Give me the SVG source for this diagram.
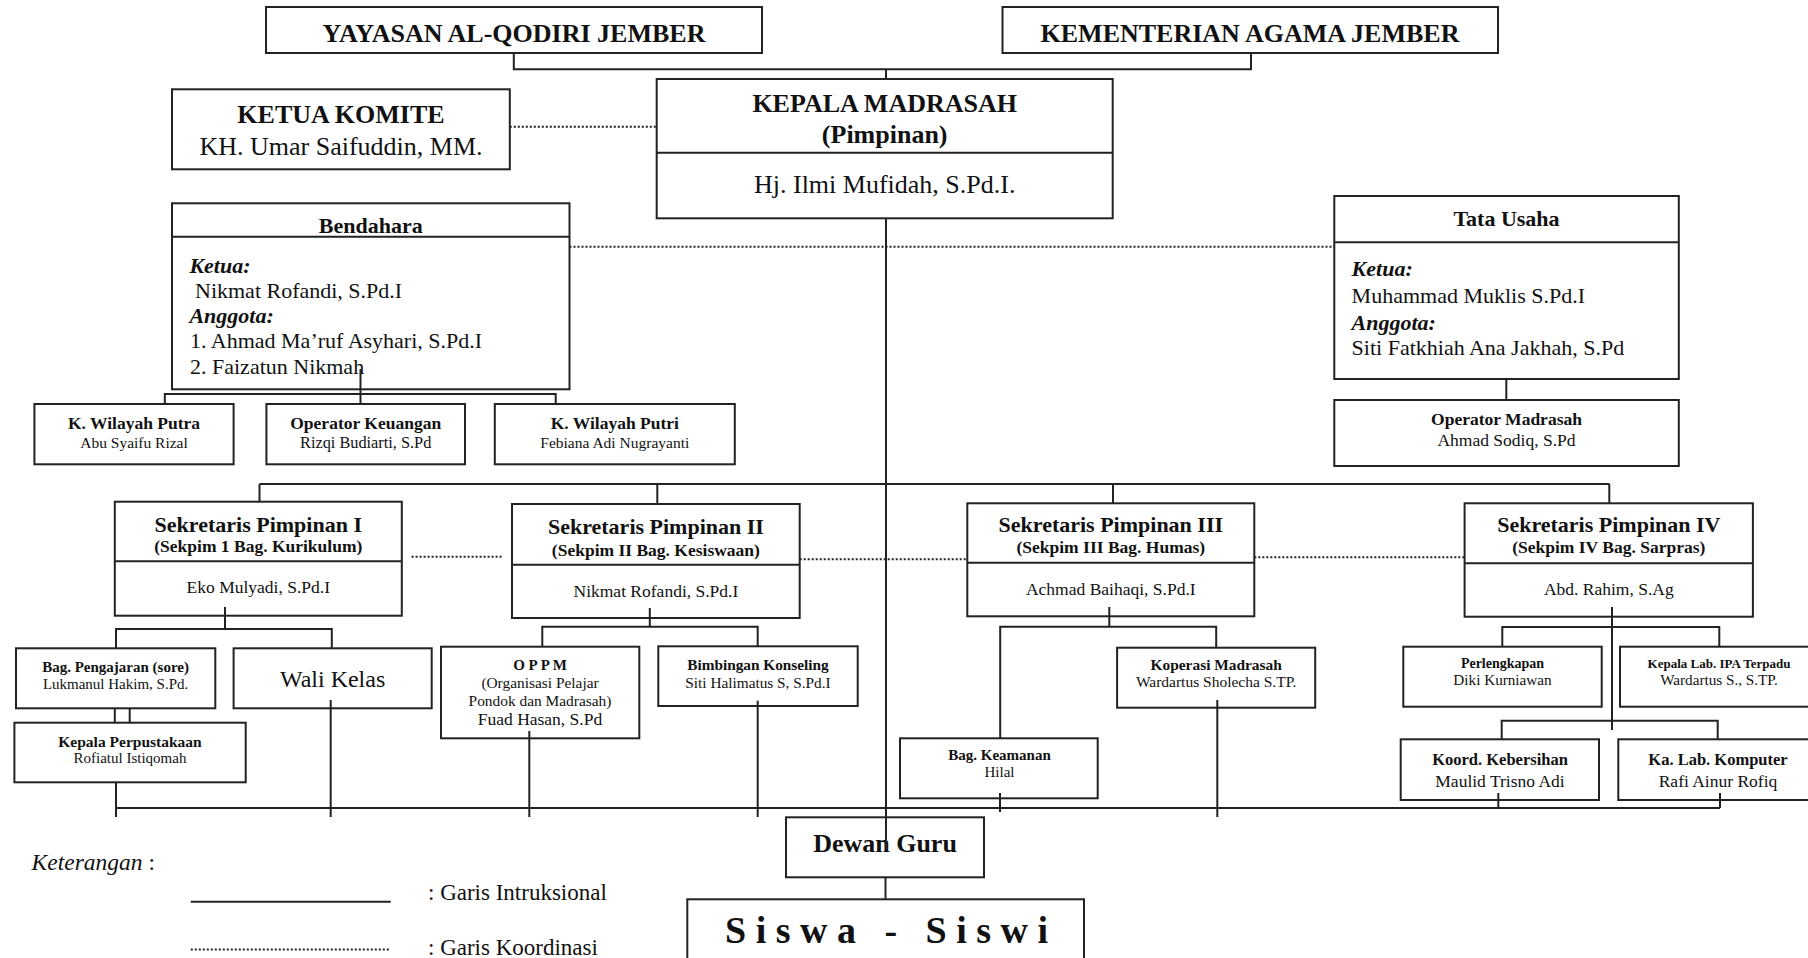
<svg xmlns="http://www.w3.org/2000/svg" width="1808" height="958" viewBox="0 0 1808 958">
<style>
.box{fill:#fff;stroke:#222;stroke-width:2}
.ln{stroke:#222;stroke-width:2;fill:none}
.dot{stroke:#222;stroke-width:2;stroke-dasharray:2 2;fill:none}
text{font-family:"Liberation Serif","Times New Roman",serif;fill:#111}
.b{font-weight:bold}
.i{font-style:italic}
.c{text-anchor:middle}
</style>
<rect width="1808" height="958" fill="#fff"/>

<g id="yayasan"><rect class="box" x="266" y="7" width="496" height="46"/><text class="b c" x="514" y="41.5" font-size="26">YAYASAN AL-QODIRI JEMBER</text></g>
<g id="kemenag"><rect class="box" x="1002.5" y="7" width="495.5" height="46"/><text class="b c" x="1250" y="41.5" font-size="26">KEMENTERIAN AGAMA JEMBER</text></g>
<g id="kepala"><rect class="box" x="656.7" y="79" width="456" height="139.3"/><line class="ln" x1="656.7" y1="152.7" x2="1112.7" y2="152.7"/>
<text class="b c" x="884.7" y="112.3" font-size="26">KEPALA MADRASAH</text><text class="b c" x="884.7" y="143.3" font-size="26">(Pimpinan)</text>
<text class="c" x="884.7" y="193.3" font-size="26">Hj. Ilmi Mufidah, S.Pd.I.</text></g>
<g id="komite"><rect class="box" x="172" y="89.3" width="337.8" height="80"/><text class="b c" x="341" y="123.3" font-size="26">KETUA KOMITE</text><text class="c" x="341" y="155" font-size="26">KH. Umar Saifuddin, MM.</text></g>
<g id="bendahara"><rect class="box" x="172" y="203.3" width="397.5" height="186"/><line class="ln" x1="172" y1="236.7" x2="569.5" y2="236.7"/>
<text class="b c" x="370.7" y="232.7" font-size="22">Bendahara</text>
<text class="b i" x="189.4" y="273.3" font-size="22">Ketua:</text>
<text x="195" y="298.3" font-size="22">Nikmat Rofandi, S.Pd.I</text>
<text class="b i" x="189.4" y="323.3" font-size="22">Anggota:</text>
<text x="190" y="348.3" font-size="22">1. Ahmad Ma’ruf Asyhari, S.Pd.I</text>
<text x="190" y="374.3" font-size="22">2. Faizatun Nikmah</text></g>
<g id="tatausaha"><rect class="box" x="1334.3" y="196" width="344.5" height="183"/><line class="ln" x1="1334.3" y1="242.3" x2="1678.8" y2="242.3"/>
<text class="b c" x="1506.5" y="225.7" font-size="22">Tata Usaha</text>
<text class="b i" x="1351.6" y="276" font-size="22">Ketua:</text>
<text x="1351.6" y="303.3" font-size="22">Muhammad Muklis S.Pd.I</text>
<text class="b i" x="1351.6" y="330" font-size="22">Anggota:</text>
<text x="1351.6" y="355" font-size="22">Siti Fatkhiah Ana Jakhah, S.Pd</text></g>
<g id="opmadrasah"><rect class="box" x="1334.3" y="400" width="344.5" height="66"/><text class="b c" x="1506.5" y="425" font-size="17.5">Operator Madrasah</text><text class="c" x="1506.5" y="446" font-size="17.5">Ahmad Sodiq, S.Pd</text></g>
<g id="kwputra"><rect class="box" x="34.4" y="404" width="199.2" height="60.3"/><text class="b c" x="134" y="429.3" font-size="17.5">K. Wilayah Putra</text><text class="c" x="134" y="448.3" font-size="15.5">Abu Syaifu Rizal</text></g>
<g id="opkeu"><rect class="box" x="266.4" y="404" width="198.6" height="60.3"/><text class="b c" x="365.7" y="429.3" font-size="17.5">Operator Keuangan</text><text class="c" x="365.7" y="448.3" font-size="16.3">Rizqi Budiarti, S.Pd</text></g>
<g id="kwputri"><rect class="box" x="494.8" y="404" width="240" height="60.3"/><text class="b c" x="614.8" y="429.3" font-size="17.5">K. Wilayah Putri</text><text class="c" x="614.8" y="448.3" font-size="15.5">Febiana Adi Nugrayanti</text></g>

<g id="sekpim1"><rect class="box" x="114.8" y="501.7" width="287" height="114"/><line class="ln" x1="114.8" y1="561.3" x2="401.8" y2="561.3"/>
<text class="b c" x="258.3" y="531.7" font-size="22">Sekretaris Pimpinan I</text><text class="b c" x="258.3" y="551.7" font-size="17.5">(Sekpim 1 Bag. Kurikulum)</text><text class="c" x="258.3" y="593.3" font-size="17.5">Eko Mulyadi, S.Pd.I</text></g>
<g id="sekpim2"><rect class="box" x="512" y="504" width="287.7" height="114"/><line class="ln" x1="512" y1="564.7" x2="799.7" y2="564.7"/>
<text class="b c" x="655.9" y="534.3" font-size="22">Sekretaris Pimpinan II</text><text class="b c" x="655.9" y="556" font-size="17.5">(Sekpim II Bag. Kesiswaan)</text><text class="c" x="655.9" y="596.7" font-size="17.5">Nikmat Rofandi, S.Pd.I</text></g>
<g id="sekpim3"><rect class="box" x="967.3" y="503.3" width="287" height="113"/><line class="ln" x1="967.3" y1="562.7" x2="1254.3" y2="562.7"/>
<text class="b c" x="1110.8" y="532.3" font-size="22">Sekretaris Pimpinan III</text><text class="b c" x="1110.8" y="553.3" font-size="17.5">(Sekpim III Bag. Humas)</text><text class="c" x="1110.8" y="595" font-size="17.5">Achmad Baihaqi, S.Pd.I</text></g>
<g id="sekpim4"><rect class="box" x="1464.6" y="503.3" width="288.3" height="113.4"/><line class="ln" x1="1464.6" y1="563.3" x2="1752.9" y2="563.3"/>
<text class="b c" x="1608.8" y="532.3" font-size="22">Sekretaris Pimpinan IV</text><text class="b c" x="1608.8" y="553.3" font-size="17.5">(Sekpim IV Bag. Sarpras)</text><text class="c" x="1608.8" y="595" font-size="17.5">Abd. Rahim, S.Ag</text></g>

<g id="pengajaran"><rect class="box" x="16" y="648.3" width="199.3" height="60"/><text class="b c" x="115.6" y="671.7" font-size="15">Bag. Pengajaran (sore)</text><text class="c" x="115.6" y="689.3" font-size="15">Lukmanul Hakim, S.Pd.</text></g>
<g id="walikelas"><rect class="box" x="233.6" y="648.3" width="198.1" height="60"/><text class="c" x="332.6" y="686.7" font-size="24">Wali Kelas</text></g>
<g id="perpus"><rect class="box" x="14.4" y="722.7" width="231.3" height="59.6"/><text class="b c" x="130" y="746.7" font-size="15.5">Kepala Perpustakaan</text><text class="c" x="130" y="763.3" font-size="15">Rofiatul Istiqomah</text></g>
<g id="oppm"><rect class="box" x="441" y="646.7" width="198.3" height="91.6"/><text class="b c" x="540" y="670" font-size="15">O P P M</text><text class="c" x="540" y="688.3" font-size="15.4">(Organisasi Pelajar</text><text class="c" x="540" y="706" font-size="15.4">Pondok dan Madrasah)</text><text class="c" x="540" y="725" font-size="17.5">Fuad Hasan, S.Pd</text></g>
<g id="bk"><rect class="box" x="658.3" y="646.3" width="199.4" height="59.7"/><text class="b c" x="758" y="670" font-size="15.3">Bimbingan Konseling</text><text class="c" x="758" y="688.3" font-size="15.3">Siti Halimatus S, S.Pd.I</text></g>
<g id="koperasi"><rect class="box" x="1117.1" y="647.7" width="198.1" height="60"/><text class="b c" x="1216.2" y="670" font-size="15.4">Koperasi Madrasah</text><text class="c" x="1216.2" y="687.3" font-size="15.5">Wardartus Sholecha S.TP.</text></g>
<g id="keamanan"><rect class="box" x="900" y="738.3" width="197.7" height="60"/><text class="b c" x="999.5" y="760" font-size="15">Bag. Keamanan</text><text class="c" x="999.5" y="776.7" font-size="15">Hilal</text></g>
<g id="perlengkapan"><rect class="box" x="1403.3" y="646.7" width="198.4" height="60"/><text class="b c" x="1502.5" y="668.3" font-size="14">Perlengkapan</text><text class="c" x="1502.5" y="685" font-size="15.2">Diki Kurniawan</text></g>
<g id="labipa"><rect class="box" x="1620" y="646.7" width="192" height="60"/><text class="b c" x="1719" y="668.3" font-size="13">Kepala Lab. IPA Terpadu</text><text class="c" x="1719" y="685" font-size="15.2">Wardartus S., S.TP.</text></g>
<g id="koord"><rect class="box" x="1400.7" y="739.3" width="198.3" height="60.7"/><text class="b c" x="1500" y="765" font-size="16.5">Koord. Kebersihan</text><text class="c" x="1500" y="786.7" font-size="17.5">Maulid Trisno Adi</text></g>
<g id="labkom"><rect class="box" x="1618.3" y="739.3" width="194" height="60.7"/><text class="b c" x="1718" y="765" font-size="16.5">Ka. Lab. Komputer</text><text class="c" x="1718" y="786.7" font-size="17.5">Rafi Ainur Rofiq</text></g>
<g id="dewanguru"><rect class="box" x="786" y="817.3" width="198" height="60"/><text class="b c" x="885" y="851.7" font-size="26">Dewan Guru</text></g>
<g id="siswa"><rect class="box" x="687.3" y="899.3" width="396.7" height="80"/><text class="b" x="725" y="943.3" font-size="38" letter-spacing="9.5">Siswa - Siswi</text></g>

<g id="connectors">
<polyline class="ln" points="513.8,53.3 513.8,69.3 1251,69.3 1251,53.3"/>
<line class="ln" x1="886" y1="69.3" x2="886" y2="79"/>
<line class="dot" x1="509.8" y1="126.7" x2="656.7" y2="126.7"/>
<line class="ln" x1="886" y1="218.3" x2="886" y2="849"/>
<line class="dot" x1="569.5" y1="246.7" x2="1334.3" y2="246.7"/>
<line class="ln" x1="360.5" y1="369" x2="360.5" y2="404"/>
<polyline class="ln" points="164.8,404 164.8,394 555.7,394 555.7,404"/>
<line class="ln" x1="1506.3" y1="379" x2="1506.3" y2="400"/>
<line class="ln" x1="259.5" y1="484" x2="1609.3" y2="484"/>
<line class="ln" x1="259.5" y1="484" x2="259.5" y2="501.7"/>
<line class="ln" x1="657.3" y1="484" x2="657.3" y2="504"/>
<line class="ln" x1="1113" y1="484" x2="1113" y2="503.3"/>
<line class="ln" x1="1609.3" y1="484" x2="1609.3" y2="503.3"/>
<line class="dot" x1="411.6" y1="556.7" x2="502.3" y2="556.7"/>
<line class="dot" x1="799.7" y1="559.3" x2="967.3" y2="559.3"/>
<line class="dot" x1="1254.3" y1="557.3" x2="1464.6" y2="557.3"/>
<line class="ln" x1="225" y1="607" x2="225" y2="629"/>
<polyline class="ln" points="116,648.3 116,629 331.8,629 331.8,648.3"/>
<line class="ln" x1="114.8" y1="708.3" x2="114.8" y2="722.7"/>
<line class="ln" x1="129.7" y1="708.3" x2="129.7" y2="722.7"/>
<line class="ln" x1="116" y1="782.3" x2="116" y2="817"/>
<line class="ln" x1="330.7" y1="700" x2="330.7" y2="817"/>
<line class="ln" x1="649.8" y1="608" x2="649.8" y2="626.7"/>
<polyline class="ln" points="542.3,646.7 542.3,626.7 757.7,626.7 757.7,646.3"/>
<line class="ln" x1="529.3" y1="731" x2="529.3" y2="817"/>
<line class="ln" x1="757.7" y1="700.7" x2="757.7" y2="817"/>
<line class="ln" x1="1109.3" y1="607" x2="1109.3" y2="626.7"/>
<polyline class="ln" points="1000.2,738.3 1000.2,626.7 1216.2,626.7 1216.2,647.7"/>
<line class="ln" x1="1217.3" y1="700" x2="1217.3" y2="817"/>
<line class="ln" x1="1000" y1="793" x2="1000" y2="812"/>
<line class="ln" x1="1612" y1="607" x2="1612" y2="730"/>
<polyline class="ln" points="1502.3,646.7 1502.3,627 1719.3,627 1719.3,646.7"/>
<polyline class="ln" points="1501.7,739.3 1501.7,720.7 1717.7,720.7 1717.7,739.3"/>
<line class="ln" x1="1498.3" y1="793" x2="1498.3" y2="808"/>
<line class="ln" x1="1720" y1="793" x2="1720" y2="808"/>
<line class="ln" x1="116" y1="808" x2="1720" y2="808"/>
<line class="ln" x1="885.5" y1="877.3" x2="885.5" y2="899.3"/>
</g>

<g id="legend">
<text x="31.6" y="870" font-size="23.5"><tspan class="i">Keterangan</tspan> :</text>
<line class="ln" x1="190.8" y1="901.7" x2="390.7" y2="901.7"/>
<text x="428" y="899.5" font-size="23">: Garis Intruksional</text>
<line class="dot" x1="190.8" y1="949.5" x2="390.7" y2="949.5"/>
<text x="428" y="955" font-size="23">: Garis Koordinasi</text>
</g>
</svg>
